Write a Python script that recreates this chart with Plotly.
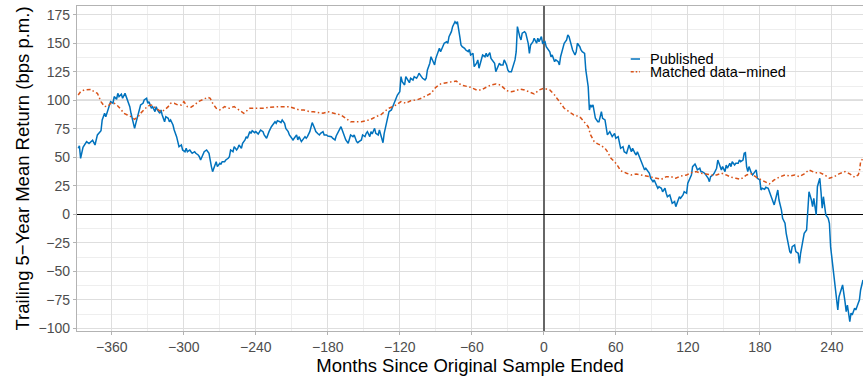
import plotly.graph_objects as go

# ---- data ----
pub_months = [-388, -387, -386, -384, -381, -379, -376, -374, -372, -369, -368, -366, -365, -363, -362, -361,
              -359, -358, -356, -355, -354, -352, -351, -349, -348, -347, -345, -344, -343, -341, -340, -338,
              -337, -336, -334, -333, -331, -330, -329, -327, -326, -324, -323, -322, -320, -319, -318, -316,
              -315, -313, -312, -311, -309, -308, -306, -305, -304, -302, -301, -299, -298, -297, -295, -294,
              -293, -291, -290, -288, -287, -286, -284, -283, -281, -279, -277, -276, -274, -273, -272, -270,
              -269, -268, -266, -265, -263, -262, -261, -259, -258, -256, -255, -254, -252, -251, -249, -248,
              -247, -245, -244, -243, -241, -240, -238, -237, -236, -234, -233, -231, -230, -229, -227, -226,
              -224, -223, -222, -220, -219, -218, -216, -215, -213, -212, -211, -209, -208, -206, -205, -204,
              -202, -201, -199, -198, -197, -195, -194, -193, -191, -190, -188, -187, -186, -184, -183, -181,
              -180, -179, -177, -176, -174, -173, -170, -169, -168, -166, -165, -163, -162, -161, -159, -158,
              -156, -155, -154, -152, -151, -149, -148, -147, -145, -144, -143, -141, -140, -138, -137, -136,
              -134, -133, -131, -130, -129, -127, -126, -124, -123, -122, -120, -119, -118, -116, -115, -113,
              -112, -111, -109, -108, -106, -105, -104, -102, -101, -99, -98, -97, -95, -94, -93, -91,
              -90, -88, -87, -86, -84, -83, -81, -80, -79, -77, -76, -74, -73, -72, -70, -69,
              -68, -66, -65, -63, -62, -61, -59, -58, -56, -55, -54, -52, -51, -49, -48, -47,
              -45, -44, -43, -41, -40, -38, -37, -36, -34, -33, -31, -30, -29, -27, -26, -24,
              -23, -22, -20, -19, -18, -16, -15, -13, -12, -11, -9, -8, -6, -5, -4, -2,
              -1, 1, 2, 3, 5, 6, 7, 9, 10, 12, 13, 14, 16, 17, 19, 20,
              21, 23, 24, 26, 27, 28, 30, 31, 32, 34, 35, 37, 38, 39, 40, 41,
              43, 45, 46, 48, 49, 51, 52, 53, 55, 56, 57, 59, 60, 62, 63, 64,
              66, 67, 69, 70, 71, 73, 74, 76, 77, 78, 80, 81, 82, 84, 85, 87,
              88, 89, 91, 92, 94, 95, 96, 98, 99, 101, 102, 103, 105, 106, 107, 109,
              110, 112, 113, 114, 116, 117, 119, 120, 121, 123, 124, 126, 127, 128, 130, 131,
              132, 134, 135, 137, 138, 139, 141, 142, 144, 145, 146, 148, 149, 151, 152, 153,
              155, 156, 157, 159, 160, 162, 163, 164, 166, 167, 168, 169, 170, 171, 173, 174,
              176, 177, 178, 180, 181, 182, 184, 185, 187, 188, 189, 191, 192, 194, 195, 196,
              198, 199, 201, 202, 203, 205, 206, 207, 209, 210, 212, 213, 214, 216, 217, 219,
              220, 221, 223, 224, 225, 226, 227, 228, 230, 231, 232, 233, 234, 235, 237, 238,
              239, 241, 242, 244, 245, 246, 248, 249, 251, 252, 253, 255, 256, 257, 259, 260,
              262, 263, 264, 266]
pub_values = [57.9, 60, 49, 58.8, 63.7, 62, 65, 60.8, 69.6, 73.3, 82.7, 88.6, 85.6, 91.5, 94.4, 98.8,
              97.4, 103.2, 100.9, 106.1, 103.2, 105.3, 101.8, 106.1, 103.2, 100.3, 94.4, 88.6, 84.2, 75.4, 79.8, 87.1,
              93, 95.9, 97.4, 100.3, 101.8, 97.4, 98.8, 93, 94.4, 90, 94.4, 91.5, 88.6, 91.5, 87.1, 81.2,
              85.6, 84.2, 81.2, 82.7, 78.3, 73.9, 68.1, 63.7, 59.3, 60.8, 56.4, 54.9, 57.9, 54.9, 56.4, 54.9,
              53.5, 54.9, 53.5, 52, 50.5, 47.6, 52, 54.9, 56.4, 53.5, 41.8, 37.4, 43.2, 46.1, 41.8, 44.7,
              44.1, 46.1, 46.1, 47.6, 49.1, 50.5, 56.4, 54.9, 59.3, 56.4, 57.9, 60.8, 57.9, 62.3, 65.2, 68.1,
              66.7, 72.5, 71, 73.3, 71.6, 72.5, 70.4, 72.5, 73.9, 72.5, 69.6, 66.7, 70.4, 72.5, 76.8, 78.3,
              81.2, 79.8, 82.1, 81.2, 80.4, 82.7, 79.8, 75.4, 72.5, 69.6, 68.1, 65.2, 66.7, 69.6, 65.2, 68.1,
              63.7, 65.2, 68.1, 66.7, 68.1, 72.5, 76.8, 80.4, 75.4, 72.5, 70.4, 69.6, 71, 72.5, 69.6, 69.6,
              68.7, 68.7, 68.1, 66.7, 65.2, 68.7, 73.9, 76.8, 73.9, 68.1, 65.2, 62.3, 66.7, 69.6, 68.1, 69.6,
              63.7, 62.8, 63.7, 65.2, 69.6, 68.1, 71, 72.5, 68.1, 72.5, 70.4, 75.4, 71, 69.6, 73.9, 69.6,
              62.8, 71, 79.8, 85.6, 90, 91.5, 94.4, 100.3, 101.8, 104.6, 107.5, 120.7, 116.3, 113.4, 120.7, 116.3,
              115.4, 119.3, 117.8, 120.7, 119.3, 121.3, 123.7, 120.7, 119.3, 117.8, 119.3, 126.6, 132.5, 138.2, 135.4, 131,
              136.8, 144.1, 145.6, 142.6, 147, 150, 151.4, 150, 155.8, 160.2, 164.6, 169, 167.5, 169, 155.8, 148.5,
              147, 145.6, 144.1, 142.6, 144.7, 139.7, 141.2, 129.5, 132.5, 135.4, 128.1, 135.4, 139.7, 138.2, 141.2, 138.2,
              141.8, 136.8, 135.4, 132.5, 125.1, 129.5, 132.5, 131, 131, 135.4, 131, 126.6, 125.1, 125.1, 128.1, 135.4,
              142.6, 164.6, 155.8, 152.9, 158.8, 160.2, 158.8, 150, 141.2, 148.5, 151.4, 154.4, 150, 154.4, 151.4, 155.8,
              150, 151.4, 147, 145.6, 142.6, 138.2, 139.7, 133.9, 135.4, 133.9, 131, 138.2, 145.6, 150, 152.9, 157.3,
              155.8, 147, 144.1, 139.7, 142.6, 150, 147, 144.1, 142.6, 141.2, 126.6, 111.9, 91.5, 95.9, 94.4, 95.9,
              84.2, 81.2, 81.2, 90, 84.2, 82.7, 73.9, 69.6, 72.5, 69.6, 68.1, 71, 66.7, 68.1, 62.3, 57.9,
              59.3, 54.9, 53.5, 57.9, 60.8, 54.9, 57.9, 53.5, 52, 54.9, 49.1, 46.1, 44.7, 38.9, 40.4, 37.4,
              36, 31.6, 28.6, 30.1, 25.7, 22.8, 24.2, 22.8, 19.8, 22.8, 18.4, 15.4, 16.9, 14, 9.6, 11.1,
              6.7, 12.5, 15.4, 14, 16.9, 19.8, 18.4, 27.2, 30.1, 34.5, 41.8, 44.1, 41.8, 38.9, 40.4, 37.4,
              37.4, 36, 34.5, 31.6, 28.6, 33, 34.5, 36, 40.4, 47.6, 44.7, 38.9, 41.8, 37.4, 43.2, 40.4,
              44.7, 41.8, 46.1, 43.2, 44.7, 44.7, 47.6, 46.1, 47.6, 53.5, 54, 41.8, 37.4, 41.8, 36, 34.5,
              37.4, 38.9, 31.6, 30.1, 21.3, 22.8, 21.9, 23.7, 22.8, 19.8, 18.4, 12.5, 8.2, 16.9, 21.3, 12.5,
              3.8, -3.5, -7.9, -16.7, -22.5, -32.8, -34.2, -28.4, -26.9, -32.8, -34.2, -43, -34.2, -22.5, -16.7, -13.8,
              3.8, 19.8, 12.5, 6.7, 14, 5.3, -0.6, 24.2, 31.6, 19.8, 5.3, 15.4, 3.8, -0.6, -3.5, -7.9,
              -28.4, -48.9, -59.1, -75.2, -83.9, -72.3, -64.9, -62, -76.7, -85.4, -79.6, -94.2, -86.8, -88.3, -82.5, -83.9,
              -78.1, -75.2, -66.4, -57.6]

dm_months = [-388, -386, -383, -380, -377, -375, -372, -369, -366, -363, -361, -358, -355, -352, -350, -347,
             -344, -341, -338, -336, -333, -330, -327, -325, -322, -319, -316, -313, -311, -308, -305, -302,
             -300, -297, -294, -291, -288, -286, -283, -280, -278, -276, -273, -270, -266, -262, -258, -254,
             -250, -245, -241, -237, -233, -229, -225, -220, -216, -212, -208, -204, -200, -195, -192, -188,
             -184, -180, -176, -172, -169, -165, -161, -156, -152, -148, -144, -140, -136, -131, -129, -126,
             -123, -119, -115, -111, -106, -102, -98, -94, -90, -86, -81, -77, -73, -69, -65, -61,
             -56, -52, -48, -44, -40, -36, -31, -27, -23, -20, -16, -12, -8, -4, 0, 5,
             9, 13, 17, 21, 25, 30, 34, 37, 39, 42, 45, 47, 51, 53, 56, 59,
             62, 64, 69, 73, 77, 81, 85, 89, 94, 98, 102, 106, 110, 114, 119, 123,
             127, 131, 135, 139, 144, 148, 152, 156, 160, 164, 169, 173, 177, 181, 185, 188,
             192, 196, 201, 205, 209, 213, 217, 221, 226, 230, 234, 238, 242, 246, 251, 255,
             259, 262, 263, 264, 266]
dm_values = [104.6, 107.5, 109, 109.6, 109.6, 107.5, 106.1, 98.8, 94.4, 95, 97.4, 97.4, 95, 91.5, 88.6, 87.1,
             85.6, 83.3, 85.6, 88.6, 92.1, 95, 95.9, 94.4, 92.1, 90, 91.5, 94.4, 97.4, 97.4, 95.9, 95.9,
             98.8, 94.4, 93.9, 95.9, 98.8, 99.6, 100.9, 102.6, 101.8, 97.4, 93, 91.5, 94.4, 93, 94.4, 91.5,
             88.6, 93, 93, 93, 93, 93.9, 94.4, 94.4, 94.4, 94.4, 93, 91.5, 91.5, 90, 90, 89.1,
             88.6, 90, 89.1, 88, 87.1, 84.2, 81.2, 81.2, 81.2, 82.1, 83.3, 85.6, 87.1, 91.5, 93, 94.4,
             95.9, 98.8, 97.4, 99.6, 100.3, 101.8, 103.8, 106.1, 111.4, 114.3, 115.4, 116.3, 116.9, 113.4, 112.5, 111.4,
             109, 109, 111.4, 113.4, 114.3, 113.4, 108.4, 107.5, 108.4, 109.9, 109, 107.5, 105.5, 109, 110.5, 109,
             104.6, 98.8, 93, 90, 87.1, 85.6, 80.4, 76.8, 69.6, 63.7, 61.7, 60.8, 57.9, 54.9, 49.1, 46.1,
             41.8, 38.2, 36, 34.5, 35.4, 34.5, 33, 32.5, 31.6, 30.7, 33, 33, 31.6, 33.6, 34.5, 36.5,
             37.4, 36, 35.4, 34.5, 34.5, 36, 34.5, 32.5, 31.6, 30.7, 34.5, 35.4, 32.5, 30.1, 27.7, 26.6,
             30.1, 32.5, 34.5, 33.6, 34.5, 33, 35.4, 38.9, 36.5, 36.5, 34.5, 31.6, 33, 35.4, 37.4, 35.4,
             32.5, 34.5, 37.4, 46.1, 49.1]

series_names = ["Published", "Matched data\u2212mined"]
series_colors = ["#0072BD", "#D95319"]
x_ticks = [-360, -300, -240, -180, -120, -60, 0, 60, 120, 180, 240]
y_ticks = [-100, -75, -50, -25, 0, 25, 50, 75, 100, 125, 150, 175]

FONT = "Liberation Sans, Arial, Helvetica, sans-serif"

fig = go.Figure()
fig.add_trace(go.Scatter(x=pub_months, y=pub_values, mode="lines", name=series_names[0],
                         line=dict(color=series_colors[0], width=1.5), showlegend=False))
fig.add_trace(go.Scatter(x=dm_months, y=dm_values, mode="lines", name=series_names[1],
                         line=dict(color=series_colors[1], width=1.5, dash="4px,2.5px,1.5px,2.5px"),
                         showlegend=False))

# reference line at 100
fig.add_shape(type="line", xref="paper", x0=0, x1=1, yref="y", y0=100, y1=100,
              line=dict(color="#8a8a8a", width=1.2), layer="between")

# manual legend (tight ggplot-like spacing)
leg_x0, leg_x1, leg_tx = 0.7045, 0.7163, 0.7275
leg_y = [0.8369, 0.7978]
fig.add_shape(type="line", xref="paper", yref="paper", x0=leg_x0, x1=leg_x1, y0=leg_y[0], y1=leg_y[0],
              line=dict(color=series_colors[0], width=1.5))
fig.add_shape(type="line", xref="paper", yref="paper", x0=leg_x0, x1=leg_x1, y0=leg_y[1], y1=leg_y[1],
              line=dict(color=series_colors[1], width=1.5, dash="3px,2px,1.5px,2px"))
for name, yy in zip(series_names, leg_y):
    fig.add_annotation(xref="paper", yref="paper", x=leg_tx, y=yy, text=name, showarrow=False,
                       xanchor="left", yanchor="middle", height=12.4, borderpad=0,
                       font=dict(size=14.5, color="#000000", family=FONT))

fig.update_layout(
    width=863, height=380,
    margin=dict(l=77, r=0, t=6, b=49),
    plot_bgcolor="white", paper_bgcolor="white",
    font=dict(family=FONT),
    xaxis=dict(range=[-389, 266], tickvals=x_ticks, ticktext=[f"{v}".replace("-", "\u2212") for v in x_ticks],
               showgrid=True, gridcolor="#dedede", gridwidth=1,
               minor=dict(dtick=30, tick0=0, showgrid=True, gridcolor="#eeeeee", gridwidth=1),
               zeroline=True, zerolinecolor="#666666", zerolinewidth=1.7,
               showline=True, linecolor="#b3b3b3", linewidth=1.3, mirror=True,
               ticks="outside", ticklen=3, tickcolor="#b3b3b3",
               tickfont=dict(size=14, color="#4d4d4d"),
               title=dict(text="Months Since Original Sample Ended", font=dict(size=18.5, color="#000000"),
                          standoff=4)),
    yaxis=dict(range=[-102.4, 182.7], tickvals=y_ticks, ticktext=[f"{v}".replace("-", "\u2212") for v in y_ticks],
               showgrid=True, gridcolor="#dedede", gridwidth=1,
               minor=dict(dtick=12.5, tick0=0, showgrid=True, gridcolor="#eeeeee", gridwidth=1),
               zeroline=True, zerolinecolor="#000000", zerolinewidth=1.1,
               showline=True, linecolor="#b3b3b3", linewidth=1.3, mirror=False,
               ticks="outside", ticklen=3, tickcolor="#b3b3b3",
               tickfont=dict(size=14, color="#4d4d4d"),
               title=dict(text="Trailing 5\u2212Year Mean Return (bps p.m.)", font=dict(size=18.5, color="#000000"),
                          standoff=4)),
)

fig.write_html("out.html", config={"displayModeBar": False},
               post_script="document.body.style.margin='0';document.body.style.overflow='hidden';")
